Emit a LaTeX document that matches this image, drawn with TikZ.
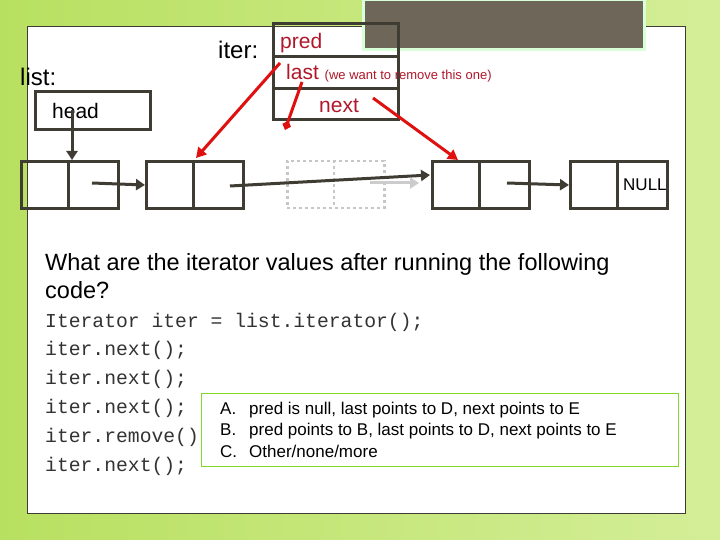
\documentclass[tikz,border=0pt]{standalone}
\usepackage{fontspec}
\setmainfont{Liberation Sans}
\setmonofont{Liberation Mono}
\usetikzlibrary{arrows.meta}
\definecolor{dk}{HTML}{3F3D33}
\definecolor{rd}{HTML}{E01010}
\definecolor{tr}{HTML}{B0182A}
\definecolor{gA}{HTML}{B8E060}
\definecolor{gB}{HTML}{D4EE98}
\definecolor{topc}{HTML}{6E6658}
\begin{document}
\begin{tikzpicture}[x=1pt,y=-1pt,
  cell/.style={draw=dk,line width=3pt},
  dcell/.style={draw=gray!45,line width=2.5pt,dashed},
  link/.style={draw=dk,line width=3pt,-{Triangle[length=9pt,width=11pt]}},
  rarr/.style={draw=rd,line width=3pt,-{Triangle[length=10pt,width=11pt]}},
  txt/.style={inner sep=0,anchor=base west},
  ansf/.style={txt,font=\fontsize{17}{19}\selectfont}]
\useasboundingbox (0,0) rectangle (720,540);
\shade[left color=gA, right color=gB] (0,0) rectangle (720,540);
\fill[white,draw=dk,line width=1pt] (27,27) rectangle (685,513);
\node[draw=green!15!white,line width=3pt,fill=topc,minimum width=281pt,minimum height=50pt,anchor=north west] (top) at (362,-2) {};
% iter box
\node[cell,minimum width=125pt,minimum height=96pt,anchor=north west] (iterbox) at (272,22) {};
\draw[dk,line width=3pt] (272,57) -- (397,57);
\draw[dk,line width=3pt] (272,89) -- (397,89);
\node[txt,font=\fontsize{21}{22}\selectfont,text=tr] (pred) at (280,49) {pred};
\node[txt,font=\fontsize{21}{22}\selectfont,text=tr] (last) at (286,80) {last \fontsize{13}{14}\selectfont(we want to remove this one)};
\node[txt,font=\fontsize{21}{22}\selectfont,text=tr] (next) at (319,113) {next};
\node[txt,font=\fontsize{24}{25}\selectfont] (iter) at (218,59) {iter:};
\node[txt,font=\fontsize{24}{25}\selectfont] (list) at (20,86) {list:};
\node[cell,minimum width=115pt,minimum height=38pt,anchor=north west] (head) at (34,90) {};
\node[txt,font=\fontsize{21}{22}\selectfont] (headt) at (52,119) {head};
% list nodes
\foreach \n/\x in {a/20,b/145,d/431,e/569}{
  \node[cell,minimum width=97pt,minimum height=47pt,anchor=north west] (\n) at (\x,160) {};
  \draw[dk,line width=3pt] (\x+48,160) -- (\x+48,207);
}
\node[dcell,minimum width=97pt,minimum height=47pt,anchor=north west] (c) at (286,160) {};
\draw[gray!45,line width=2.5pt,dashed] (334,160) -- (334,207);
\node[txt,font=\fontsize{17}{18}\selectfont] (null) at (623,191) {NULL};
\coordinate (hs) at (72,110);
\coordinate (as) at (92,183);
\coordinate (bs) at (230,186);
\coordinate (cs) at (370,183);
\coordinate (ds) at (507,183);
\draw[link] (hs) -- (72,160);
\draw[link] (as) -- (b.west);
\draw[link] (bs) -- (430,175);
\draw[draw=gray!40,line width=3pt,-{Triangle[length=9pt,width=11pt]}] (cs) -- (419,183);
\draw[link] (ds) -- (e.west);
% red arrows
\draw[rarr] (280,63) -- (196,158);
\draw[draw=rd,line width=3pt,-{Diamond[length=10pt,width=9pt]}] (302,82) -- (285,130);
\draw[rarr] (373,98) -- (458,160);
% question
\node[txt,font=\fontsize{23.5}{25}\selectfont] (q1) at (45,270) {What are the iterator values after running the following};
\node[txt,font=\fontsize{23.5}{25}\selectfont] (q2) at (45,298) {code?};
\foreach \t/\y [count=\i] in {Iterator iter = list.iterator();/327,iter.next();/355,iter.next();/384,iter.next();/413,iter.remove();/442,iter.next();/471}
  \node[txt,font=\ttfamily\fontsize{19.7}{21}\selectfont,text=black!80] (c\i) at (45,\y) {\t};
\node[draw=green!50!yellow!70!gray,line width=1pt,fill=white,minimum width=477pt,minimum height=73pt,anchor=north west] (ans) at (201,393) {};
\node[ansf] (la) at (220,414) {A.};
\node[ansf] (ta) at (249,414) {pred is null, last points to D, next points to E};
\node[ansf] (lb) at (220,435) {B.};
\node[ansf] (tb) at (249,435) {pred points to B, last points to D, next points to E};
\node[ansf] (lc) at (220,457) {C.};
\node[ansf] (tc) at (249,457) {Other/none/more};
\end{tikzpicture}
\end{document}
